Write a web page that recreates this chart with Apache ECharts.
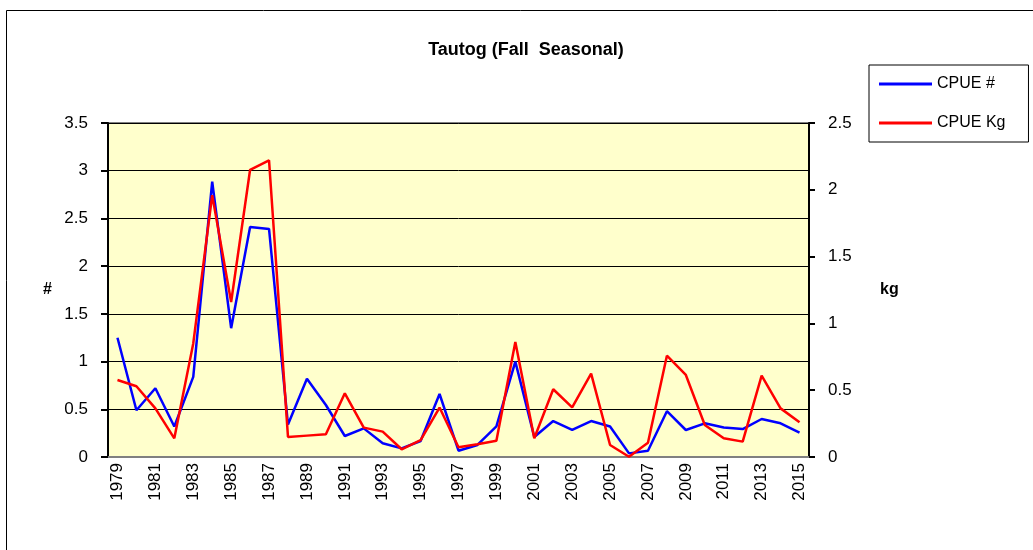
<!DOCTYPE html>
<html>
<head>
<meta charset="utf-8">
<script src="https://cdn.jsdelivr.net/npm/echarts@6/dist/echarts.min.js"></script>
<style>
  html, body { margin: 0; padding: 0; background: #fff; }
  #chart { width: 1033px; height: 550px; }
</style>
</head>
<body>
<div id="chart"></div>
<script>
const years = ['1979', '1980', '1981', '1982', '1983', '1984', '1985', '1986', '1987', '1988',
  '1989', '1990', '1991', '1992', '1993', '1994', '1995', '1996', '1997', '1998',
  '1999', '2000', '2001', '2002', '2003', '2004', '2005', '2006', '2007', '2008',
  '2009', '2010', '2011', '2012', '2013', '2014', '2015'];

// CPUE # (left axis)
const cpueNum = [1.25, 0.49, 0.72, 0.32, 0.84, 2.885, 1.35, 2.41, 2.39, 0.34,
  0.82, 0.545, 0.22, 0.30, 0.144, 0.09, 0.168, 0.66, 0.066, 0.126,
  0.32, 1.0, 0.21, 0.377, 0.283, 0.377, 0.32, 0.038, 0.066, 0.48,
  0.283, 0.353, 0.31, 0.293, 0.398, 0.353, 0.255];

// CPUE Kg (right axis)
const cpueKg = [0.576, 0.53, 0.364, 0.14, 0.85, 1.96, 1.16, 2.15, 2.22, 0.15,
  0.16, 0.17, 0.477, 0.22, 0.19, 0.058, 0.127, 0.37, 0.073, 0.095,
  0.122, 0.86, 0.14, 0.507, 0.372, 0.624, 0.09, 0.002, 0.107, 0.758,
  0.614, 0.24, 0.14, 0.115, 0.609, 0.364, 0.26];

const font = '"Liberation Sans", Arial, sans-serif';

const chart = echarts.init(document.getElementById('chart'));

chart.setOption({
  animation: false,
  textStyle: { fontFamily: font },
  title: {
    text: 'Tautog (Fall  Seasonal)',
    left: 521,
    top: 36,
    textAlign: 'center',
    textStyle: { fontSize: 18, fontWeight: 'bold', color: '#000', fontFamily: font }
  },
  graphic: [
    {
      type: 'rect',
      shape: { x: 6.5, y: 10.5, width: 1200, height: 700 },
      style: { fill: 'none', stroke: '#000', lineWidth: 1 },
      silent: true
    }
  ],
  legend: {
    orient: 'vertical',
    left: 869,
    top: 65,
    padding: [11, 23, 11, 10],
    itemGap: 23,
    itemWidth: 53,
    itemHeight: 3,
    itemTextGap: 5,
    icon: 'rect',
    borderColor: '#000',
    borderWidth: 1,
    textStyle: { fontSize: 16, lineHeight: 16, color: '#000', fontFamily: font },
    data: ['CPUE #', 'CPUE Kg']
  },
  grid: {
    left: 108,
    top: 123,
    width: 701,
    height: 334,
    show: true,
    backgroundColor: '#FFFFCC',
    borderColor: '#808080',
    borderWidth: 2
  },
  xAxis: {
    type: 'category',
    data: years,
    boundaryGap: true,
    axisLine: { lineStyle: { color: '#808080', width: 2 } },
    axisTick: { interval: 0, length: 6, lineStyle: { color: '#000', width: 2 } },
    axisLabel: { interval: 1, rotate: 90, margin: 6, fontSize: 17, color: '#000' }
  },
  yAxis: [
    {
      type: 'value',
      min: 0,
      max: 3.5,
      interval: 0.5,
      name: '#',
      nameLocation: 'middle',
      nameRotate: 0,
      nameGap: 56,
      nameTextStyle: { fontSize: 16, fontWeight: 'bold', color: '#000' },
      axisLine: { show: true, lineStyle: { color: '#000', width: 2 } },
      axisTick: { show: true, length: 7, lineStyle: { color: '#000', width: 2 } },
      axisLabel: { margin: 20, fontSize: 17, color: '#000' },
      splitLine: { show: true, lineStyle: { color: '#000', width: 1 } }
    },
    {
      type: 'value',
      min: 0,
      max: 2.5,
      interval: 0.5,
      position: 'right',
      name: 'kg',
      nameLocation: 'middle',
      nameRotate: 0,
      nameGap: 71,
      nameTextStyle: { fontSize: 16, fontWeight: 'bold', color: '#000' },
      axisLine: { show: true, lineStyle: { color: '#000', width: 2 } },
      axisTick: { show: true, length: 6, lineStyle: { color: '#000', width: 2 } },
      axisLabel: { margin: 19, fontSize: 17, color: '#000' },
      splitLine: { show: false }
    }
  ],
  series: [
    {
      name: 'CPUE #',
      type: 'line',
      yAxisIndex: 0,
      data: cpueNum,
      showSymbol: false,
      symbol: 'none',
      color: '#0000FF',
      lineStyle: { color: '#0000FF', width: 2.5 }
    },
    {
      name: 'CPUE Kg',
      type: 'line',
      yAxisIndex: 1,
      data: cpueKg,
      showSymbol: false,
      symbol: 'none',
      color: '#FF0000',
      lineStyle: { color: '#FF0000', width: 2.5 }
    }
  ]
});
</script>
</body>
</html>
